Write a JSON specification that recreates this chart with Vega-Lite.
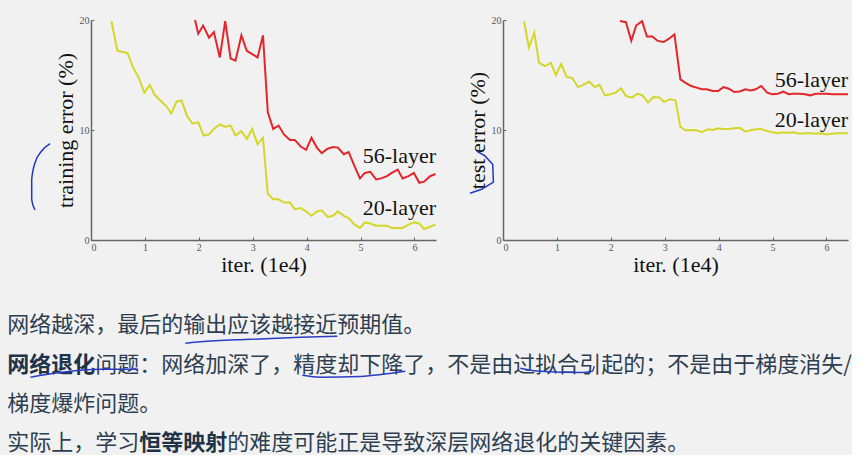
{
  "$schema": "https://vega.github.io/schema/vega-lite/v6.json",
  "background": "#f1f1f1",
  "padding": {"left": 7, "top": 15, "right": 0, "bottom": 0},
  "spacing": 11,
  "datasets": {
    "train": [
      {"iter": 1.93, "error": 20.0, "depth": "56-layer"},
      {"iter": 1.99, "error": 18.76, "depth": "56-layer"},
      {"iter": 2.08, "error": 19.5, "depth": "56-layer"},
      {"iter": 2.19, "error": 18.4, "depth": "56-layer"},
      {"iter": 2.28, "error": 18.9, "depth": "56-layer"},
      {"iter": 2.39, "error": 16.6, "depth": "56-layer"},
      {"iter": 2.49, "error": 19.9, "depth": "56-layer"},
      {"iter": 2.59, "error": 16.5, "depth": "56-layer"},
      {"iter": 2.68, "error": 16.3, "depth": "56-layer"},
      {"iter": 2.79, "error": 18.6, "depth": "56-layer"},
      {"iter": 2.89, "error": 17.2, "depth": "56-layer"},
      {"iter": 2.99, "error": 16.9, "depth": "56-layer"},
      {"iter": 3.09, "error": 16.6, "depth": "56-layer"},
      {"iter": 3.19, "error": 18.6, "depth": "56-layer"},
      {"iter": 3.28, "error": 11.6, "depth": "56-layer"},
      {"iter": 3.38, "error": 10.1, "depth": "56-layer"},
      {"iter": 3.48, "error": 10.4, "depth": "56-layer"},
      {"iter": 3.58, "error": 9.6, "depth": "56-layer"},
      {"iter": 3.69, "error": 9.1, "depth": "56-layer"},
      {"iter": 3.78, "error": 9.1, "depth": "56-layer"},
      {"iter": 3.89, "error": 8.5, "depth": "56-layer"},
      {"iter": 3.99, "error": 8.2, "depth": "56-layer"},
      {"iter": 4.09, "error": 9.3, "depth": "56-layer"},
      {"iter": 4.19, "error": 8.4, "depth": "56-layer"},
      {"iter": 4.28, "error": 7.9, "depth": "56-layer"},
      {"iter": 4.39, "error": 8.3, "depth": "56-layer"},
      {"iter": 4.49, "error": 8.45, "depth": "56-layer"},
      {"iter": 4.58, "error": 8.4, "depth": "56-layer"},
      {"iter": 4.69, "error": 7.8, "depth": "56-layer"},
      {"iter": 4.78, "error": 8.0, "depth": "56-layer"},
      {"iter": 4.89, "error": 6.7, "depth": "56-layer"},
      {"iter": 4.99, "error": 5.6, "depth": "56-layer"},
      {"iter": 5.08, "error": 6.1, "depth": "56-layer"},
      {"iter": 5.18, "error": 6.2, "depth": "56-layer"},
      {"iter": 5.29, "error": 5.5, "depth": "56-layer"},
      {"iter": 5.38, "error": 5.6, "depth": "56-layer"},
      {"iter": 5.49, "error": 5.8, "depth": "56-layer"},
      {"iter": 5.58, "error": 6.1, "depth": "56-layer"},
      {"iter": 5.69, "error": 6.4, "depth": "56-layer"},
      {"iter": 5.78, "error": 5.6, "depth": "56-layer"},
      {"iter": 5.89, "error": 5.8, "depth": "56-layer"},
      {"iter": 5.99, "error": 6.1, "depth": "56-layer"},
      {"iter": 6.09, "error": 5.2, "depth": "56-layer"},
      {"iter": 6.18, "error": 5.3, "depth": "56-layer"},
      {"iter": 6.29, "error": 5.8, "depth": "56-layer"},
      {"iter": 6.39, "error": 6.0, "depth": "56-layer"},
      {"iter": 0.38, "error": 19.9, "depth": "20-layer"},
      {"iter": 0.49, "error": 17.2, "depth": "20-layer"},
      {"iter": 0.59, "error": 17.1, "depth": "20-layer"},
      {"iter": 0.68, "error": 17.0, "depth": "20-layer"},
      {"iter": 0.78, "error": 15.7, "depth": "20-layer"},
      {"iter": 0.88, "error": 14.8, "depth": "20-layer"},
      {"iter": 0.99, "error": 13.4, "depth": "20-layer"},
      {"iter": 1.09, "error": 14.1, "depth": "20-layer"},
      {"iter": 1.18, "error": 13.2, "depth": "20-layer"},
      {"iter": 1.28, "error": 12.7, "depth": "20-layer"},
      {"iter": 1.39, "error": 12.2, "depth": "20-layer"},
      {"iter": 1.49, "error": 11.5, "depth": "20-layer"},
      {"iter": 1.59, "error": 12.6, "depth": "20-layer"},
      {"iter": 1.68, "error": 12.7, "depth": "20-layer"},
      {"iter": 1.78, "error": 11.3, "depth": "20-layer"},
      {"iter": 1.88, "error": 10.6, "depth": "20-layer"},
      {"iter": 1.99, "error": 10.7, "depth": "20-layer"},
      {"iter": 2.09, "error": 9.5, "depth": "20-layer"},
      {"iter": 2.19, "error": 9.6, "depth": "20-layer"},
      {"iter": 2.28, "error": 10.1, "depth": "20-layer"},
      {"iter": 2.39, "error": 10.5, "depth": "20-layer"},
      {"iter": 2.49, "error": 10.3, "depth": "20-layer"},
      {"iter": 2.59, "error": 10.4, "depth": "20-layer"},
      {"iter": 2.68, "error": 9.5, "depth": "20-layer"},
      {"iter": 2.79, "error": 9.9, "depth": "20-layer"},
      {"iter": 2.89, "error": 9.2, "depth": "20-layer"},
      {"iter": 2.99, "error": 10.1, "depth": "20-layer"},
      {"iter": 3.09, "error": 8.7, "depth": "20-layer"},
      {"iter": 3.19, "error": 9.3, "depth": "20-layer"},
      {"iter": 3.28, "error": 4.2, "depth": "20-layer"},
      {"iter": 3.38, "error": 3.7, "depth": "20-layer"},
      {"iter": 3.48, "error": 3.7, "depth": "20-layer"},
      {"iter": 3.58, "error": 3.4, "depth": "20-layer"},
      {"iter": 3.69, "error": 3.4, "depth": "20-layer"},
      {"iter": 3.78, "error": 2.8, "depth": "20-layer"},
      {"iter": 3.89, "error": 2.9, "depth": "20-layer"},
      {"iter": 3.99, "error": 2.6, "depth": "20-layer"},
      {"iter": 4.09, "error": 2.2, "depth": "20-layer"},
      {"iter": 4.19, "error": 2.6, "depth": "20-layer"},
      {"iter": 4.28, "error": 2.7, "depth": "20-layer"},
      {"iter": 4.39, "error": 2.1, "depth": "20-layer"},
      {"iter": 4.49, "error": 2.2, "depth": "20-layer"},
      {"iter": 4.58, "error": 2.6, "depth": "20-layer"},
      {"iter": 4.69, "error": 2.2, "depth": "20-layer"},
      {"iter": 4.78, "error": 2.0, "depth": "20-layer"},
      {"iter": 4.89, "error": 1.4, "depth": "20-layer"},
      {"iter": 4.99, "error": 1.1, "depth": "20-layer"},
      {"iter": 5.08, "error": 1.6, "depth": "20-layer"},
      {"iter": 5.18, "error": 1.5, "depth": "20-layer"},
      {"iter": 5.29, "error": 1.3, "depth": "20-layer"},
      {"iter": 5.38, "error": 1.3, "depth": "20-layer"},
      {"iter": 5.49, "error": 1.3, "depth": "20-layer"},
      {"iter": 5.58, "error": 1.1, "depth": "20-layer"},
      {"iter": 5.69, "error": 1.1, "depth": "20-layer"},
      {"iter": 5.78, "error": 1.1, "depth": "20-layer"},
      {"iter": 5.89, "error": 1.4, "depth": "20-layer"},
      {"iter": 5.99, "error": 1.6, "depth": "20-layer"},
      {"iter": 6.09, "error": 1.5, "depth": "20-layer"},
      {"iter": 6.18, "error": 1.0, "depth": "20-layer"},
      {"iter": 6.29, "error": 1.2, "depth": "20-layer"},
      {"iter": 6.39, "error": 1.4, "depth": "20-layer"}
    ],
    "test": [
      {"iter": 2.17, "error": 19.9, "depth": "56-layer"},
      {"iter": 2.28, "error": 19.8, "depth": "56-layer"},
      {"iter": 2.38, "error": 18.1, "depth": "56-layer"},
      {"iter": 2.47, "error": 19.5, "depth": "56-layer"},
      {"iter": 2.58, "error": 19.9, "depth": "56-layer"},
      {"iter": 2.67, "error": 18.5, "depth": "56-layer"},
      {"iter": 2.77, "error": 18.5, "depth": "56-layer"},
      {"iter": 2.87, "error": 18.1, "depth": "56-layer"},
      {"iter": 2.98, "error": 18.0, "depth": "56-layer"},
      {"iter": 3.08, "error": 18.3, "depth": "56-layer"},
      {"iter": 3.18, "error": 18.7, "depth": "56-layer"},
      {"iter": 3.29, "error": 14.6, "depth": "56-layer"},
      {"iter": 3.38, "error": 14.3, "depth": "56-layer"},
      {"iter": 3.49, "error": 14.0, "depth": "56-layer"},
      {"iter": 3.59, "error": 13.85, "depth": "56-layer"},
      {"iter": 3.69, "error": 13.7, "depth": "56-layer"},
      {"iter": 3.78, "error": 13.7, "depth": "56-layer"},
      {"iter": 3.89, "error": 13.55, "depth": "56-layer"},
      {"iter": 3.99, "error": 13.55, "depth": "56-layer"},
      {"iter": 4.09, "error": 13.9, "depth": "56-layer"},
      {"iter": 4.19, "error": 13.75, "depth": "56-layer"},
      {"iter": 4.29, "error": 13.45, "depth": "56-layer"},
      {"iter": 4.39, "error": 13.5, "depth": "56-layer"},
      {"iter": 4.5, "error": 13.7, "depth": "56-layer"},
      {"iter": 4.59, "error": 13.6, "depth": "56-layer"},
      {"iter": 4.69, "error": 13.7, "depth": "56-layer"},
      {"iter": 4.79, "error": 14.0, "depth": "56-layer"},
      {"iter": 4.9, "error": 13.4, "depth": "56-layer"},
      {"iter": 4.99, "error": 13.25, "depth": "56-layer"},
      {"iter": 5.1, "error": 13.3, "depth": "56-layer"},
      {"iter": 5.2, "error": 13.5, "depth": "56-layer"},
      {"iter": 5.3, "error": 13.25, "depth": "56-layer"},
      {"iter": 5.39, "error": 13.3, "depth": "56-layer"},
      {"iter": 5.5, "error": 13.3, "depth": "56-layer"},
      {"iter": 5.6, "error": 13.25, "depth": "56-layer"},
      {"iter": 5.7, "error": 13.15, "depth": "56-layer"},
      {"iter": 5.8, "error": 13.3, "depth": "56-layer"},
      {"iter": 5.9, "error": 13.3, "depth": "56-layer"},
      {"iter": 6.0, "error": 13.3, "depth": "56-layer"},
      {"iter": 6.11, "error": 13.25, "depth": "56-layer"},
      {"iter": 6.2, "error": 13.25, "depth": "56-layer"},
      {"iter": 6.4, "error": 13.25, "depth": "56-layer"},
      {"iter": 0.39, "error": 19.9, "depth": "20-layer"},
      {"iter": 0.48, "error": 17.5, "depth": "20-layer"},
      {"iter": 0.58, "error": 18.85, "depth": "20-layer"},
      {"iter": 0.67, "error": 16.1, "depth": "20-layer"},
      {"iter": 0.78, "error": 15.8, "depth": "20-layer"},
      {"iter": 0.89, "error": 16.1, "depth": "20-layer"},
      {"iter": 0.98, "error": 15.0, "depth": "20-layer"},
      {"iter": 1.08, "error": 16.0, "depth": "20-layer"},
      {"iter": 1.18, "error": 14.85, "depth": "20-layer"},
      {"iter": 1.29, "error": 14.7, "depth": "20-layer"},
      {"iter": 1.39, "error": 13.9, "depth": "20-layer"},
      {"iter": 1.49, "error": 14.1, "depth": "20-layer"},
      {"iter": 1.6, "error": 14.4, "depth": "20-layer"},
      {"iter": 1.7, "error": 13.9, "depth": "20-layer"},
      {"iter": 1.79, "error": 14.1, "depth": "20-layer"},
      {"iter": 1.89, "error": 13.15, "depth": "20-layer"},
      {"iter": 1.99, "error": 13.25, "depth": "20-layer"},
      {"iter": 2.09, "error": 13.4, "depth": "20-layer"},
      {"iter": 2.19, "error": 13.8, "depth": "20-layer"},
      {"iter": 2.28, "error": 13.1, "depth": "20-layer"},
      {"iter": 2.39, "error": 12.95, "depth": "20-layer"},
      {"iter": 2.5, "error": 13.3, "depth": "20-layer"},
      {"iter": 2.59, "error": 13.15, "depth": "20-layer"},
      {"iter": 2.69, "error": 12.5, "depth": "20-layer"},
      {"iter": 2.79, "error": 13.0, "depth": "20-layer"},
      {"iter": 2.9, "error": 12.95, "depth": "20-layer"},
      {"iter": 2.99, "error": 12.55, "depth": "20-layer"},
      {"iter": 3.09, "error": 12.8, "depth": "20-layer"},
      {"iter": 3.2, "error": 12.7, "depth": "20-layer"},
      {"iter": 3.29, "error": 10.3, "depth": "20-layer"},
      {"iter": 3.38, "error": 9.97, "depth": "20-layer"},
      {"iter": 3.49, "error": 10.0, "depth": "20-layer"},
      {"iter": 3.59, "error": 9.97, "depth": "20-layer"},
      {"iter": 3.69, "error": 9.8, "depth": "20-layer"},
      {"iter": 3.8, "error": 10.06, "depth": "20-layer"},
      {"iter": 3.89, "error": 10.0, "depth": "20-layer"},
      {"iter": 3.99, "error": 10.15, "depth": "20-layer"},
      {"iter": 4.09, "error": 10.1, "depth": "20-layer"},
      {"iter": 4.19, "error": 10.1, "depth": "20-layer"},
      {"iter": 4.29, "error": 10.15, "depth": "20-layer"},
      {"iter": 4.39, "error": 10.2, "depth": "20-layer"},
      {"iter": 4.5, "error": 9.85, "depth": "20-layer"},
      {"iter": 4.59, "error": 9.97, "depth": "20-layer"},
      {"iter": 4.69, "error": 10.06, "depth": "20-layer"},
      {"iter": 4.79, "error": 10.1, "depth": "20-layer"},
      {"iter": 4.9, "error": 9.9, "depth": "20-layer"},
      {"iter": 4.99, "error": 9.8, "depth": "20-layer"},
      {"iter": 5.1, "error": 9.7, "depth": "20-layer"},
      {"iter": 5.2, "error": 9.8, "depth": "20-layer"},
      {"iter": 5.3, "error": 9.75, "depth": "20-layer"},
      {"iter": 5.39, "error": 9.8, "depth": "20-layer"},
      {"iter": 5.5, "error": 9.67, "depth": "20-layer"},
      {"iter": 5.6, "error": 9.7, "depth": "20-layer"},
      {"iter": 5.7, "error": 9.7, "depth": "20-layer"},
      {"iter": 5.8, "error": 9.67, "depth": "20-layer"},
      {"iter": 5.9, "error": 9.7, "depth": "20-layer"},
      {"iter": 6.0, "error": 9.6, "depth": "20-layer"},
      {"iter": 6.11, "error": 9.67, "depth": "20-layer"},
      {"iter": 6.2, "error": 9.7, "depth": "20-layer"},
      {"iter": 6.4, "error": 9.7, "depth": "20-layer"}
    ],
    "train_labels": [
      {"iter": 6.4, "error": 7.0, "depth": "56-layer"},
      {"iter": 6.4, "error": 2.25, "depth": "20-layer"}
    ],
    "test_labels": [
      {"iter": 6.4, "error": 13.95, "depth": "56-layer"},
      {"iter": 6.4, "error": 10.3, "depth": "20-layer"}
    ],
    "train_ink": [
      {"seq": 1, "iter": -0.76, "error": 8.76},
      {"seq": 2, "iter": -0.915, "error": 8.09},
      {"seq": 3, "iter": -1.037, "error": 7.04},
      {"seq": 4, "iter": -1.1, "error": 5.52},
      {"seq": 5, "iter": -1.1, "error": 3.7},
      {"seq": 6, "iter": -1.037, "error": 2.73}
    ],
    "test_ink": [
      {"seq": 1, "iter": -0.489, "error": 8.09},
      {"seq": 2, "iter": -0.335, "error": 7.64},
      {"seq": 3, "iter": -0.191, "error": 6.88},
      {"seq": 4, "iter": -0.178, "error": 5.27},
      {"seq": 5, "iter": -0.396, "error": 4.61},
      {"seq": 6, "iter": -0.613, "error": 4.25}
    ],
    "notes": [
      {"row": 1, "col": 0, "keyTerm": false, "text": "网络越深，最后的输出应该越接近预期值。"},
      {"row": 2, "col": 0, "keyTerm": true, "text": "网络退化"},
      {"row": 2, "col": 4, "keyTerm": false, "text": "问题：网络加深了，精度却下降了，不是由过拟合引起的；不是由于梯度消失/"},
      {"row": 3, "col": 0, "keyTerm": false, "text": "梯度爆炸问题。"},
      {"row": 4, "col": 0, "keyTerm": false, "text": "实际上，学习"},
      {"row": 4, "col": 6, "keyTerm": true, "text": "恒等映射"},
      {"row": 4, "col": 10, "keyTerm": false, "text": "的难度可能正是导致深层网络退化的关键因素。"}
    ],
    "underlines": [
      {"stroke": "a", "seq": 1, "col": 8.09, "row": 1.458},
      {"stroke": "a", "seq": 2, "col": 8.77, "row": 1.42},
      {"stroke": "a", "seq": 3, "col": 11.05, "row": 1.356},
      {"stroke": "a", "seq": 4, "col": 13.32, "row": 1.305},
      {"stroke": "a", "seq": 5, "col": 15.0, "row": 1.28},
      {"stroke": "b", "seq": 1, "col": 1.05, "row": 2.32},
      {"stroke": "b", "seq": 2, "col": 2.41, "row": 2.2},
      {"stroke": "b", "seq": 3, "col": 4.23, "row": 2.12},
      {"stroke": "b", "seq": 4, "col": 5.95, "row": 2.12},
      {"stroke": "c", "seq": 1, "col": 13.41, "row": 2.27},
      {"stroke": "c", "seq": 2, "col": 14.23, "row": 2.32},
      {"stroke": "c", "seq": 3, "col": 16.05, "row": 2.3},
      {"stroke": "c", "seq": 4, "col": 18.09, "row": 2.17},
      {"stroke": "d", "seq": 1, "col": 23.32, "row": 2.09},
      {"stroke": "d", "seq": 2, "col": 24.23, "row": 2.17},
      {"stroke": "d", "seq": 3, "col": 26.05, "row": 2.2},
      {"stroke": "d", "seq": 4, "col": 26.59, "row": 2.17},
      {"stroke": "d", "seq": 5, "col": 26.68, "row": 2.04}
    ]
  },
  "vconcat": [
    {
      "spacing": 26,
      "hconcat": [
        {
          "width": 345,
          "height": 220,
          "layer": [
            {
              "data": {"name": "train"},
              "mark": {"type": "line", "strokeWidth": 2},
              "encoding": {
                "x": {"field": "iter", "type": "quantitative", "scale": {"domain": [0, 6.4], "nice": false},
                      "axis": {"title": "iter. (1e4)", "values": [0, 1, 2, 3, 4, 5, 6]}},
                "y": {"field": "error", "type": "quantitative", "scale": {"domain": [0, 20], "nice": false},
                      "axis": {"title": "training error (%)", "values": [0, 10, 20]}},
                "color": {"field": "depth", "type": "nominal",
                          "scale": {"domain": ["56-layer", "20-layer"], "range": ["#e3262b", "#d4d72a"]}, "legend": null}
              }
            },
            {
              "data": {"name": "train_labels"},
              "mark": {"type": "text", "align": "right", "baseline": "alphabetic", "font": "Liberation Serif", "fontSize": 22, "color": "#111111"},
              "encoding": {
                "x": {"field": "iter", "type": "quantitative"},
                "y": {"field": "error", "type": "quantitative"},
                "text": {"field": "depth"}
              }
            },
            {
              "data": {"name": "train_ink"},
              "mark": {"type": "line", "color": "#2438c4", "strokeWidth": 1.5, "interpolate": "monotone"},
              "encoding": {
                "x": {"field": "iter", "type": "quantitative"},
                "y": {"field": "error", "type": "quantitative"},
                "order": {"field": "seq"}
              }
            }
          ]
        },
        {
          "width": 345,
          "height": 220,
          "layer": [
            {
              "data": {"name": "test"},
              "mark": {"type": "line", "strokeWidth": 2},
              "encoding": {
                "x": {"field": "iter", "type": "quantitative", "scale": {"domain": [0, 6.4], "nice": false},
                      "axis": {"title": "iter. (1e4)", "values": [0, 1, 2, 3, 4, 5, 6]}},
                "y": {"field": "error", "type": "quantitative", "scale": {"domain": [0, 20], "nice": false},
                      "axis": {"title": "test error (%)", "values": [0, 10, 20]}},
                "color": {"field": "depth", "type": "nominal",
                          "scale": {"domain": ["56-layer", "20-layer"], "range": ["#e3262b", "#d4d72a"]}, "legend": null}
              }
            },
            {
              "data": {"name": "test_labels"},
              "mark": {"type": "text", "align": "right", "baseline": "alphabetic", "font": "Liberation Serif", "fontSize": 22, "color": "#111111"},
              "encoding": {
                "x": {"field": "iter", "type": "quantitative"},
                "y": {"field": "error", "type": "quantitative"},
                "text": {"field": "depth"}
              }
            },
            {
              "data": {"name": "test_ink"},
              "mark": {"type": "line", "color": "#2438c4", "strokeWidth": 1.5},
              "encoding": {
                "x": {"field": "iter", "type": "quantitative"},
                "y": {"field": "error", "type": "quantitative"},
                "order": {"field": "seq"}
              }
            }
          ]
        }
      ]
    },
    {
      "width": 760,
      "height": 169,
      "encoding": {
        "x": {"field": "col", "type": "quantitative", "scale": {"domain": [3.805, 38.35], "nice": false, "zero": false}, "axis": null},
        "y": {"field": "row", "type": "quantitative", "scale": {"domain": [0, 4.3], "nice": false, "reverse": true}, "axis": null}
      },
      "layer": [
        {
          "data": {"name": "notes"},
          "transform": [{"filter": "!datum.keyTerm"}],
          "mark": {"type": "text", "align": "left", "baseline": "middle", "font": "Noto Sans CJK SC", "fontSize": 22, "color": "#2d3e50"},
          "encoding": {"text": {"field": "text"}}
        },
        {
          "data": {"name": "notes"},
          "transform": [{"filter": "datum.keyTerm"}],
          "mark": {"type": "text", "align": "left", "baseline": "middle", "font": "Noto Sans CJK SC", "fontSize": 22, "fontWeight": "bold", "color": "#1f3348"},
          "encoding": {"text": {"field": "text"}}
        },
        {
          "data": {"name": "underlines"},
          "mark": {"type": "line", "color": "#2a3cc4", "strokeWidth": 1.5, "interpolate": "monotone"},
          "encoding": {
            "detail": {"field": "stroke"},
            "order": {"field": "seq"}
          }
        }
      ]
    }
  ],
  "config": {
    "view": {"stroke": null},
    "axis": {
      "grid": false,
      "domainColor": "#666666",
      "domainWidth": 1.5,
      "tickColor": "#666666",
      "tickSize": -3,
      "labelColor": "#555555",
      "labelFont": "Liberation Serif",
      "labelFontSize": 10,
      "labelPadding": 5,
      "titleFont": "Liberation Serif",
      "titleFontSize": 22,
      "titleFontWeight": "normal",
      "titleColor": "#111111",
      "titlePadding": 2
    }
  }
}
